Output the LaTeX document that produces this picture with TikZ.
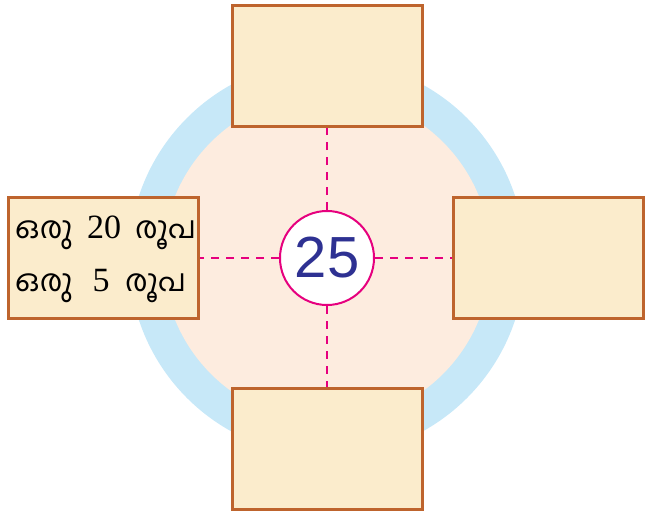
\documentclass[tikz,border=0pt]{standalone}
\usepackage{fontspec}
\setmainfont{Liberation Serif}
\newfontfamily\mlfont[Script=Malayalam,Scale=0.92]{Hind Kochi}
\newfontfamily\numfont{Liberation Sans}
\definecolor{ringblue}{RGB}{199,232,248}
\definecolor{peach}{RGB}{253,236,223}
\definecolor{boxfill}{RGB}{251,236,204}
\definecolor{boxline}{RGB}{190,100,45}
\definecolor{magentaline}{RGB}{230,0,126}
\definecolor{numblue}{RGB}{46,49,146}
\tikzset{
  valbox/.style={draw=boxline, fill=boxfill, line width=3pt, minimum width=190pt, minimum height=121pt, inner sep=0pt},
  guide/.style={draw=magentaline, line width=2.2pt, dash pattern=on 8pt off 7pt},
  mlword/.style={anchor=base west, inner sep=0pt, font=\mlfont\fontsize{33}{36}\selectfont},
  numword/.style={anchor=base, inner sep=0pt, font=\fontsize{34}{36}\selectfont}
}
\begin{document}
\begin{tikzpicture}[x=1pt,y=-1pt]
\useasboundingbox (0,0) rectangle (646,512);
\fill[ringblue] (327,258) circle (198);
\fill[peach] (327,258) circle (164);
\node[valbox] (top) at (327,65.5) {};
\node[valbox] (bottom) at (327,449) {};
\node[valbox] (left) at (103,258) {};
\node[valbox] (right) at (548,258) {};
\node[circle, draw=magentaline, fill=white, line width=2pt, minimum size=94pt, inner sep=0pt, text=numblue, font=\numfont\fontsize{58}{60}\selectfont] (c) at (327,258) {2\kern1pt 5};
\draw[guide] (c.north) -- (top.south);
\draw[guide] (c.south) -- (bottom.north);
\draw[guide] (c.west) -- (left.east);
\draw[guide] (c.east) -- (right.west);
\node[mlword] (a1) at (15,238) {ഒരു};
\node[numword] (n1) at (104,238) {20};
\node[mlword] (r1) at (135,238) {രൂപ};
\node[mlword] (a2) at (15,291) {ഒരു};
\node[numword] (n2) at (101,291) {5};
\node[mlword] (r2) at (125,291) {രൂപ};
\end{tikzpicture}
\end{document}
